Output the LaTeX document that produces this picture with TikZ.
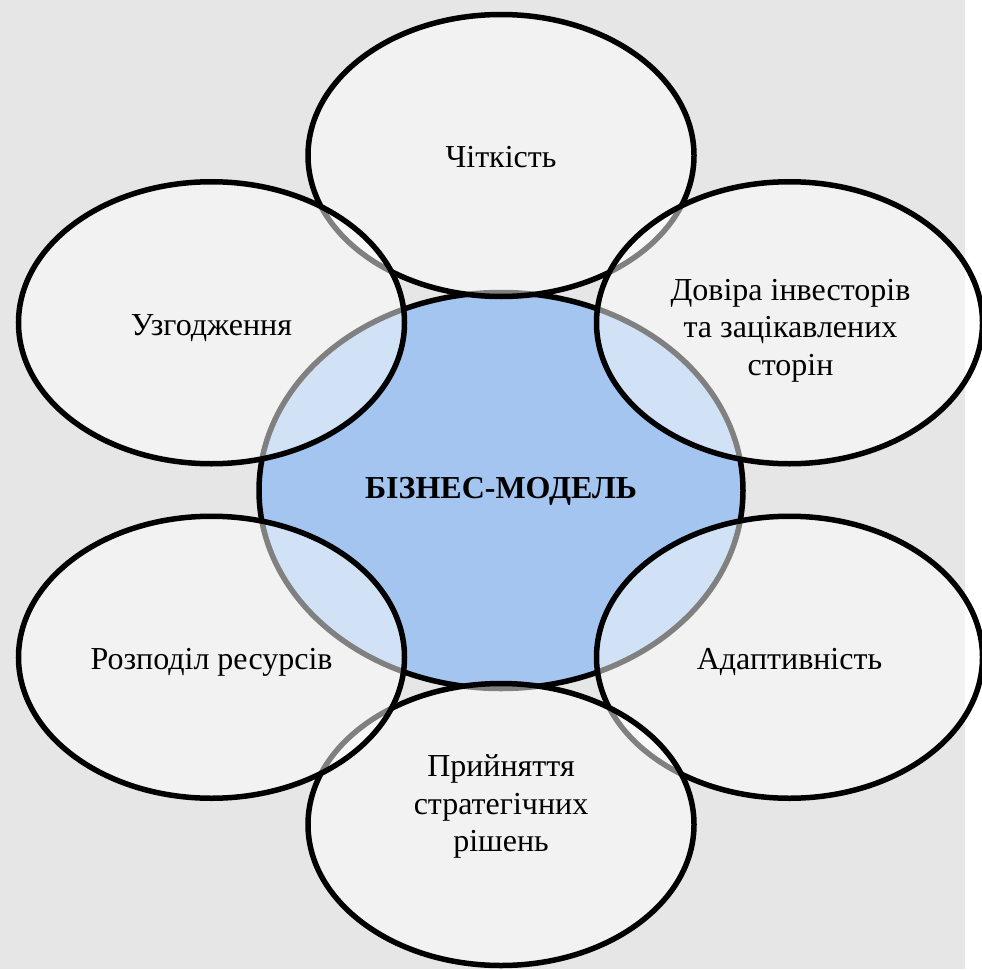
\documentclass[tikz,border=0pt]{standalone}
\usepackage{fontspec}
\setmainfont{Liberation Serif}
\usetikzlibrary{shapes.geometric,calc}
\definecolor{BackClr}{RGB}{230,230,230}
\definecolor{CoreClr}{RGB}{163,197,240}

\begin{document}
\begin{tikzpicture}[x=1pt,y=-1pt,
  core/.style={ellipse,draw=black,line width=5.5pt,fill=CoreClr,inner sep=0pt,
    minimum width=484pt,minimum height=396pt},
  petal/.style={ellipse,draw=black,line width=5.5pt,fill=white,fill opacity=0.5,
    inner sep=0pt,minimum width=386pt,minimum height=282pt},
  txt/.style={align=center,inner sep=0pt,font=\fontsize{32}{37.5}\selectfont}]

\useasboundingbox (0,0) rectangle (982,969);
\fill[white] (0,0) rectangle (982,969);
\fill[BackClr] (0,0) rectangle (965,969);

% centre
\node[core] (model) at (501,490.5) {};

% petals, clockwise from the top
\node[petal] (clear) at (501,155.5) {};
\node[petal] (trust) at (789.5,322.75) {};
\node[petal] (adapt) at (789.5,657.25) {};
\node[petal] (decide) at (501,824.5) {};
\node[petal] (alloc) at (211.5,657.25) {};
\node[petal] (align) at (211.5,322.75) {};

% texts
\node[txt] at ($(clear)+(0,2)$) {Чіткість};
\node[txt] at ($(trust)+(1,8)$) {Довіра інвесторів\\та зацікавлених\\сторін};
\node[txt] at ($(adapt)+(0,5)$) {Адаптивність};
\node[txt] at ($(decide)+(0,-18)$) {Прийняття\\стратегічних\\рішень};
\node[txt] at ($(alloc)+(0,5)$) {Розподіл ресурсів};
\node[txt] at ($(align)+(0,5)$) {Узгодження};
\node[txt] at ($(model)+(0,1)$) {\bfseries БІЗНЕС-МОДЕЛЬ};

\end{tikzpicture}
\end{document}
